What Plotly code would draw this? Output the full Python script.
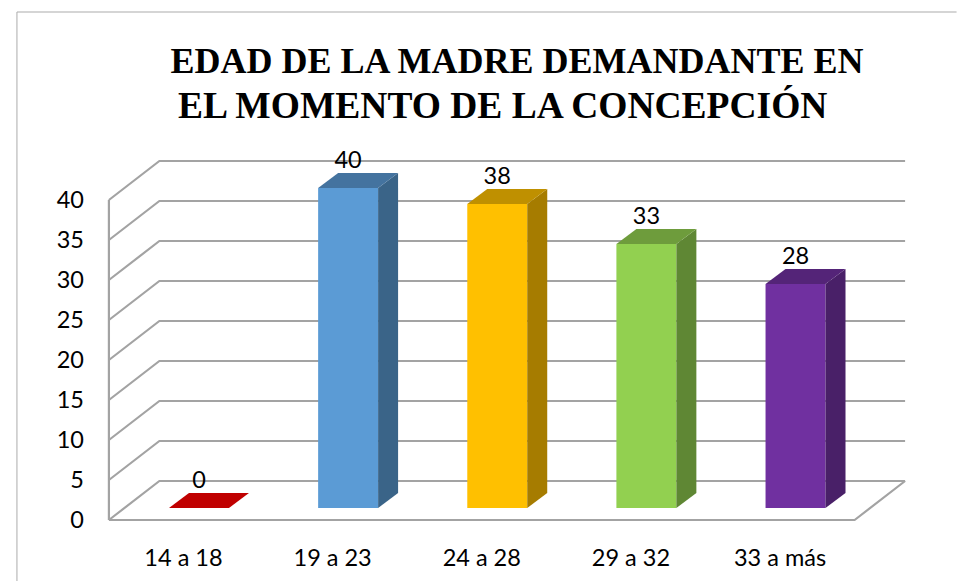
import plotly.graph_objects as go

categories = ["14 a 18", "19 a 23", "24 a 28", "29 a 32", "33 a más"]
values = [0, 40, 38, 33, 28]
y_ticks = [0, 5, 10, 15, 20, 25, 30, 35, 40]
title_lines = ["EDAD DE LA MADRE DEMANDANTE EN", "EL MOMENTO DE LA CONCEPCIÓN"]
front_colors = ["#C00000", "#5B9BD5", "#FFC000", "#92D050", "#7030A0"]
side_colors = ["#900000", "#3A6488", "#A67C00", "#5F8734", "#492068"]
top_colors = ["#C00000", "#44739F", "#BF9000", "#6E9C3C", "#542478"]

# Projection geometry (oblique 3D), pixel scale of the plot area
PX_X = 149.2
PX_Y = 8.0
WALL_DX = 50.5 / PX_X
WALL_DY = 39 / PX_Y
BAR_WIDTH = 60 / PX_X
BAR_SHIFT_X = 15.5 / PX_X
BAR_BASE = 12 / PX_Y
BAR_DX = 20 / PX_X
BAR_DY = 15 / PX_Y
LABEL_GAP = 26 / PX_Y
N = len(categories)
GRID = "#A3A3A3"
X0_PX, Y0_PX = 109, 520          # pixel position of the axes origin
X_MIN, X_MAX = -0.1, N + WALL_DX + 0.1
Y_MIN, Y_MAX = -1, 48
TEXT_FONT = dict(family="Lato", size=23.5, color="#000000")
TITLE_FONT = dict(family="Liberation Serif", color="#000000")

fig = go.Figure()

# wall and floor grid
gx, gy = [], []
for t in y_ticks:
    gx += [0, WALL_DX, N + WALL_DX, None]
    gy += [t, t + WALL_DY, t + WALL_DY, None]
gx += [0, 0, None, 0, N, N + WALL_DX]
gy += [0, y_ticks[-1], None, 0, 0, WALL_DY]
fig.add_trace(go.Scatter(x=gx, y=gy, mode="lines", line=dict(color=GRID, width=2.2),
                         hoverinfo="skip", showlegend=False, zorder=0))

centers = [i + 0.5 + BAR_SHIFT_X for i in range(N)]
tops = [v + BAR_BASE for v in values]

# front faces
fig.add_trace(go.Bar(x=centers, y=values, base=BAR_BASE, width=BAR_WIDTH,
                     marker=dict(color=front_colors, line=dict(width=0)),
                     showlegend=False, hoverinfo="skip", zorder=1))

# side and top faces
for c, t, sc, tc in zip(centers, tops, side_colors, top_colors):
    l, r = c - BAR_WIDTH / 2, c + BAR_WIDTH / 2
    if t > BAR_BASE:
        fig.add_trace(go.Scatter(
            x=[r, r + BAR_DX, r + BAR_DX, r, r],
            y=[BAR_BASE, BAR_BASE + BAR_DY, t + BAR_DY, t, BAR_BASE],
            mode="lines", fill="toself", fillcolor=sc, line=dict(width=0),
            hoverinfo="skip", showlegend=False, zorder=2))
    fig.add_trace(go.Scatter(
        x=[l, r, r + BAR_DX, l + BAR_DX, l],
        y=[t, t, t + BAR_DY, t + BAR_DY, t],
        mode="lines", fill="toself", fillcolor=tc, line=dict(width=0),
        hoverinfo="skip", showlegend=False, zorder=2))

# data labels
fig.add_trace(go.Scatter(
    x=centers, y=[t + LABEL_GAP for t in tops], mode="text",
    text=[str(v) for v in values], textposition="middle center",
    textfont=TEXT_FONT,
    hoverinfo="skip", showlegend=False, zorder=3))

ML = X0_PX + X_MIN * PX_X
MR = 957 - (X0_PX + X_MAX * PX_X)
MT = Y0_PX - Y_MAX * PX_Y
MB = 581 - (Y0_PX - Y_MIN * PX_Y)


def paper_x(px):
    return (px - ML) / (957 - ML - MR)


def paper_y(px):
    return (581 - MB - px) / (581 - MT - MB)


fig.update_layout(
    width=957, height=581,
    margin=dict(l=ML, r=MR, t=MT, b=MB, autoexpand=False),
    autosize=False,
    paper_bgcolor="#FFFFFF", plot_bgcolor="#FFFFFF",
    showlegend=False,
    title=dict(
        text="<b>" + title_lines[0] + "</b>",
        x=517 / 957, xanchor="center", xref="container",
        y=1 - 60 / 581, yanchor="middle", yref="container",
        font=dict(size=36, **TITLE_FONT),
    ),
    annotations=[dict(
        text="<b>" + title_lines[1] + "</b>",
        xref="paper", yref="paper", x=paper_x(503), y=paper_y(105),
        xanchor="center", yanchor="middle", showarrow=False,
        font=dict(size=37.5, **TITLE_FONT),
    )],
    xaxis=dict(
        range=[X_MIN, X_MAX], showgrid=False, zeroline=False, showline=False,
        tickmode="array", tickvals=[i + 0.5 for i in range(N)], ticktext=categories,
        ticks="", ticklabelstandoff=13, automargin=False,
        tickfont=TEXT_FONT,
    ),
    yaxis=dict(
        range=[Y_MIN, Y_MAX], showgrid=False, zeroline=False, showline=False,
        tickmode="array", tickvals=y_ticks, ticktext=[str(t) for t in y_ticks],
        ticks="", ticklabelstandoff=9, automargin=False,
        tickfont=TEXT_FONT,
    ),
    shapes=[dict(
        type="path", xref="paper", yref="paper",
        path="M {0} {1} L {0} {2} L {3} {2}".format(
            paper_x(17), paper_y(581), paper_y(12), paper_x(957)),
        line=dict(color="#ABABAB", width=1),
    )],
)

fig.write_html("out.html", config=dict(displayModeBar=False),
               post_script="document.body.style.margin='0';")
